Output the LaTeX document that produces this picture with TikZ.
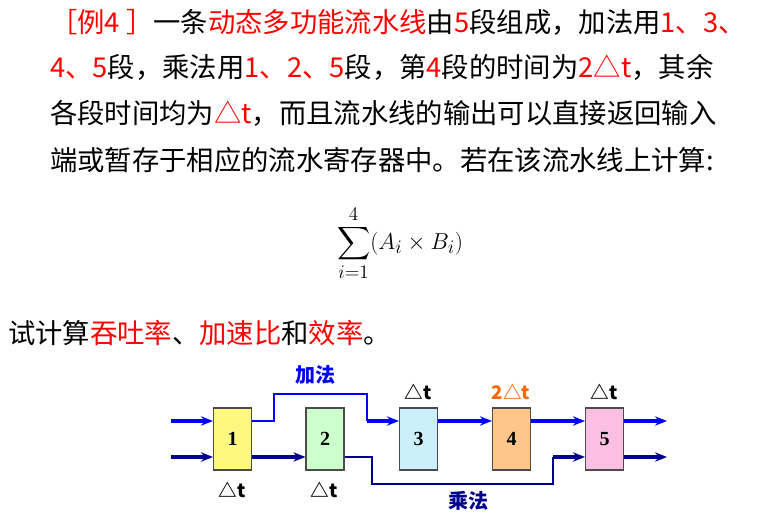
\documentclass[tikz,border=0pt]{standalone}
\usepackage{amsmath}
\usepackage{fontspec}
\setmainfont{Liberation Serif}
\newfontfamily\cjk{Noto Sans CJK SC}
\usetikzlibrary{arrows.meta}
\definecolor{rd}{RGB}{255,0,0}
\definecolor{bl}{RGB}{0,0,255}
\definecolor{nv}{RGB}{0,0,140}
\definecolor{org}{RGB}{255,102,0}
\begin{document}
\begin{tikzpicture}[x=0.75pt,y=-0.75pt,
  txt/.style={anchor=west,inner sep=0pt,font=\cjk\fontsize{20.5}{22}\selectfont},
  stage/.style={draw=black!70,line width=0.8pt,minimum width=28.5pt,minimum height=46.5pt,inner sep=0pt,font=\bfseries\fontsize{15}{16}\selectfont},
  lab/.style={font=\cjk\bfseries\fontsize{14}{15}\selectfont,inner sep=0pt},
  addl/.style={bl,line width=2.8pt,-{Stealth[length=9pt,width=7pt]}},
  addp/.style={bl,line width=1.6pt},
  mull/.style={nv,line width=2.8pt,-{Stealth[length=9pt,width=7pt]}},
  mulp/.style={nv,line width=1.6pt}]
\useasboundingbox (0,0) rectangle (770,516);
\node[txt] (l1) at (50,22) {\textcolor{rd}{［例4 ］}一条\textcolor{rd}{动态多功能流水线}由\textcolor{rd}{5}段组成，加法用\textcolor{rd}{1、3、}};
\node[txt] (l2) at (50,67) {\textcolor{rd}{4、5}段，乘法用\textcolor{rd}{1、2、5}段，第\textcolor{rd}{4}段的时间为\textcolor{rd}{2△t}，其余};
\node[txt] (l3) at (50,113) {各段时间均为\textcolor{rd}{△t}，而且流水线的输出可以直接返回输入};
\node[txt] (l4) at (50,160) {端或暂存于相应的流水寄存器中。若在该流水线上计算:};
\node[inner sep=0pt,font=\fontsize{19}{21}\selectfont] (f) at (400,243) {$\displaystyle\sum\limits_{i=1}^{4}(A_i\times B_i)$};
\node[txt] (l5) at (8,333) {试计算\textcolor{rd}{吞吐率}、\textcolor{rd}{加速比}和\textcolor{rd}{效率}。};
% stages
\node[stage,fill=yellow!50] (s1) at (232.5,439) {1};
\node[stage,fill=green!20] (s2) at (325,439) {2};
\node[stage,fill=cyan!20] (s3) at (418.5,439) {3};
\node[stage,fill=orange!45] (s4) at (511.5,439) {4};
\node[stage,fill=magenta!25] (s5) at (604.5,439) {5};
\coordinate (i1) at (171,421); \coordinate (i2) at (171,457);
\coordinate (o1) at (667,421); \coordinate (o2) at (667,457);
\draw[addl] (i1) -- (i1-|s1.west);
\draw[mull] (i2) -- (i2-|s1.west);
\draw[addp] (s1.east|-i1) -- (274,421) -- (274,394) -- (367,394) -- (367,421);
\draw[addl] (367,421) -- (s3.west|-i1);
\draw[addl] (s3.east|-i1) -- (s4.west|-i1);
\draw[addl] (s4.east|-i1) -- (s5.west|-i1);
\draw[addl] (s5.east|-i1) -- (o1);
\draw[mull] (s1.east|-i2) -- (s2.west|-i2);
\draw[mulp] (s2.east|-i2) -- (372,457) -- (372,484) -- (553,484) -- (553,457);
\draw[mull] (553,457) -- (s5.west|-i2);
\draw[mull] (s5.east|-i2) -- (o2);
\node[lab,bl,font=\cjk\bfseries\fontsize{15}{16}\selectfont] (ja) at (315,375) {加法};
\node[lab,nv,font=\cjk\bfseries\fontsize{15}{16}\selectfont] (cf) at (468,501) {乘法};
\node[lab] (t3) at (418,392) {△t};
\node[lab,org] (t4) at (511,392) {2△t};
\node[lab] (t5) at (604,392) {△t};
\node[lab] (t1) at (232,490) {△t};
\node[lab] (t2) at (324,490) {△t};
\end{tikzpicture}
\end{document}
